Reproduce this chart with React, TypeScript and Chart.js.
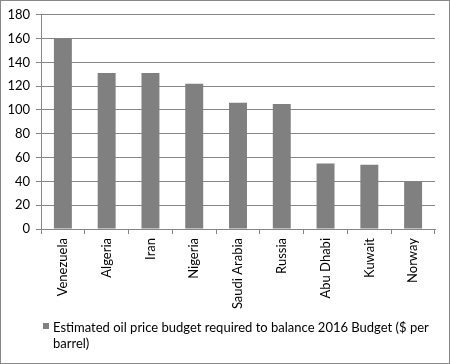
import { useEffect, useRef } from "react";
import { Chart, registerables } from "chart.js";

Chart.register(...registerables);

const categories = ["Venezuela", "Algeria", "Iran", "Nigeria", "Saudi Arabia", "Russia", "Abu Dhabi", "Kuwait", "Norway"];
const budgetPrices = [160, 131, 131, 122, 106, 105, 55, 54, 40];
const legendLines = ["Estimated oil price budget required to balance 2016 Budget ($ per", "barrel)"];
const yMin = 0;
const yMax = 180;
const yStep = 20;

const FONT = "Lato";
const BAR_COLOR = "#808080";
const GRID_COLOR = "#868686";

const wrappedLegend = {
  id: "wrappedLegend",
  afterDraw(chart: any) {
    const ctx = chart.ctx;
    ctx.save();
    ctx.fillStyle = BAR_COLOR;
    ctx.fillRect(42, 322, 6, 6);
    ctx.fillStyle = "#000";
    ctx.font = `13px ${FONT}`;
    ctx.textBaseline = "alphabetic";
    ctx.textAlign = "left";
    legendLines.forEach((line, i) => ctx.fillText(line, 52, 331 + i * 16));
    ctx.restore();
  },
};

export default function App() {
  const ref = useRef<HTMLCanvasElement | null>(null);
  useEffect(() => {
    if (!ref.current) return;
    const chart = new Chart(ref.current, {
      type: "bar",
      data: {
        labels: categories,
        datasets: [
          {
            label: legendLines.join(" "),
            data: budgetPrices,
            backgroundColor: BAR_COLOR,
            borderWidth: 0,
            barPercentage: 0.41,
            categoryPercentage: 1,
          },
        ],
      },
      options: {
        animation: false,
        responsive: false,
        layout: { padding: { top: 13, right: 14, left: 0, bottom: 0 } },
        plugins: { legend: { display: false }, tooltip: { enabled: false } },
        scales: {
          x: {
            afterFit: (s: any) => {
              s.height = 134;
            },
            grid: { offset: true, drawOnChartArea: false, drawTicks: true, tickLength: 5, color: GRID_COLOR },
            border: { color: GRID_COLOR },
            ticks: {
              autoSkip: false,
              minRotation: 90,
              maxRotation: 90,
              padding: 4,
              color: "#000",
              font: { family: FONT, size: 13 },
            },
          },
          y: {
            min: yMin,
            max: yMax,
            afterFit: (s: any) => {
              s.width = 40;
            },
            grid: { color: GRID_COLOR, tickLength: 5 },
            border: { color: GRID_COLOR },
            ticks: {
              stepSize: yStep,
              padding: 6,
              color: "#000",
              font: { family: FONT, size: 13 },
            },
          },
        },
      },
      plugins: [wrappedLegend],
    });
    return () => chart.destroy();
  }, []);
  return (
    <div
      style={{
        position: "absolute",
        left: 0,
        top: 0,
        width: 450,
        height: 364,
        boxSizing: "border-box",
        border: "1px solid #888",
        background: "#fff",
      }}
    >
      <canvas ref={ref} width={448} height={362} style={{ display: "block" }} />
    </div>
  );
}
